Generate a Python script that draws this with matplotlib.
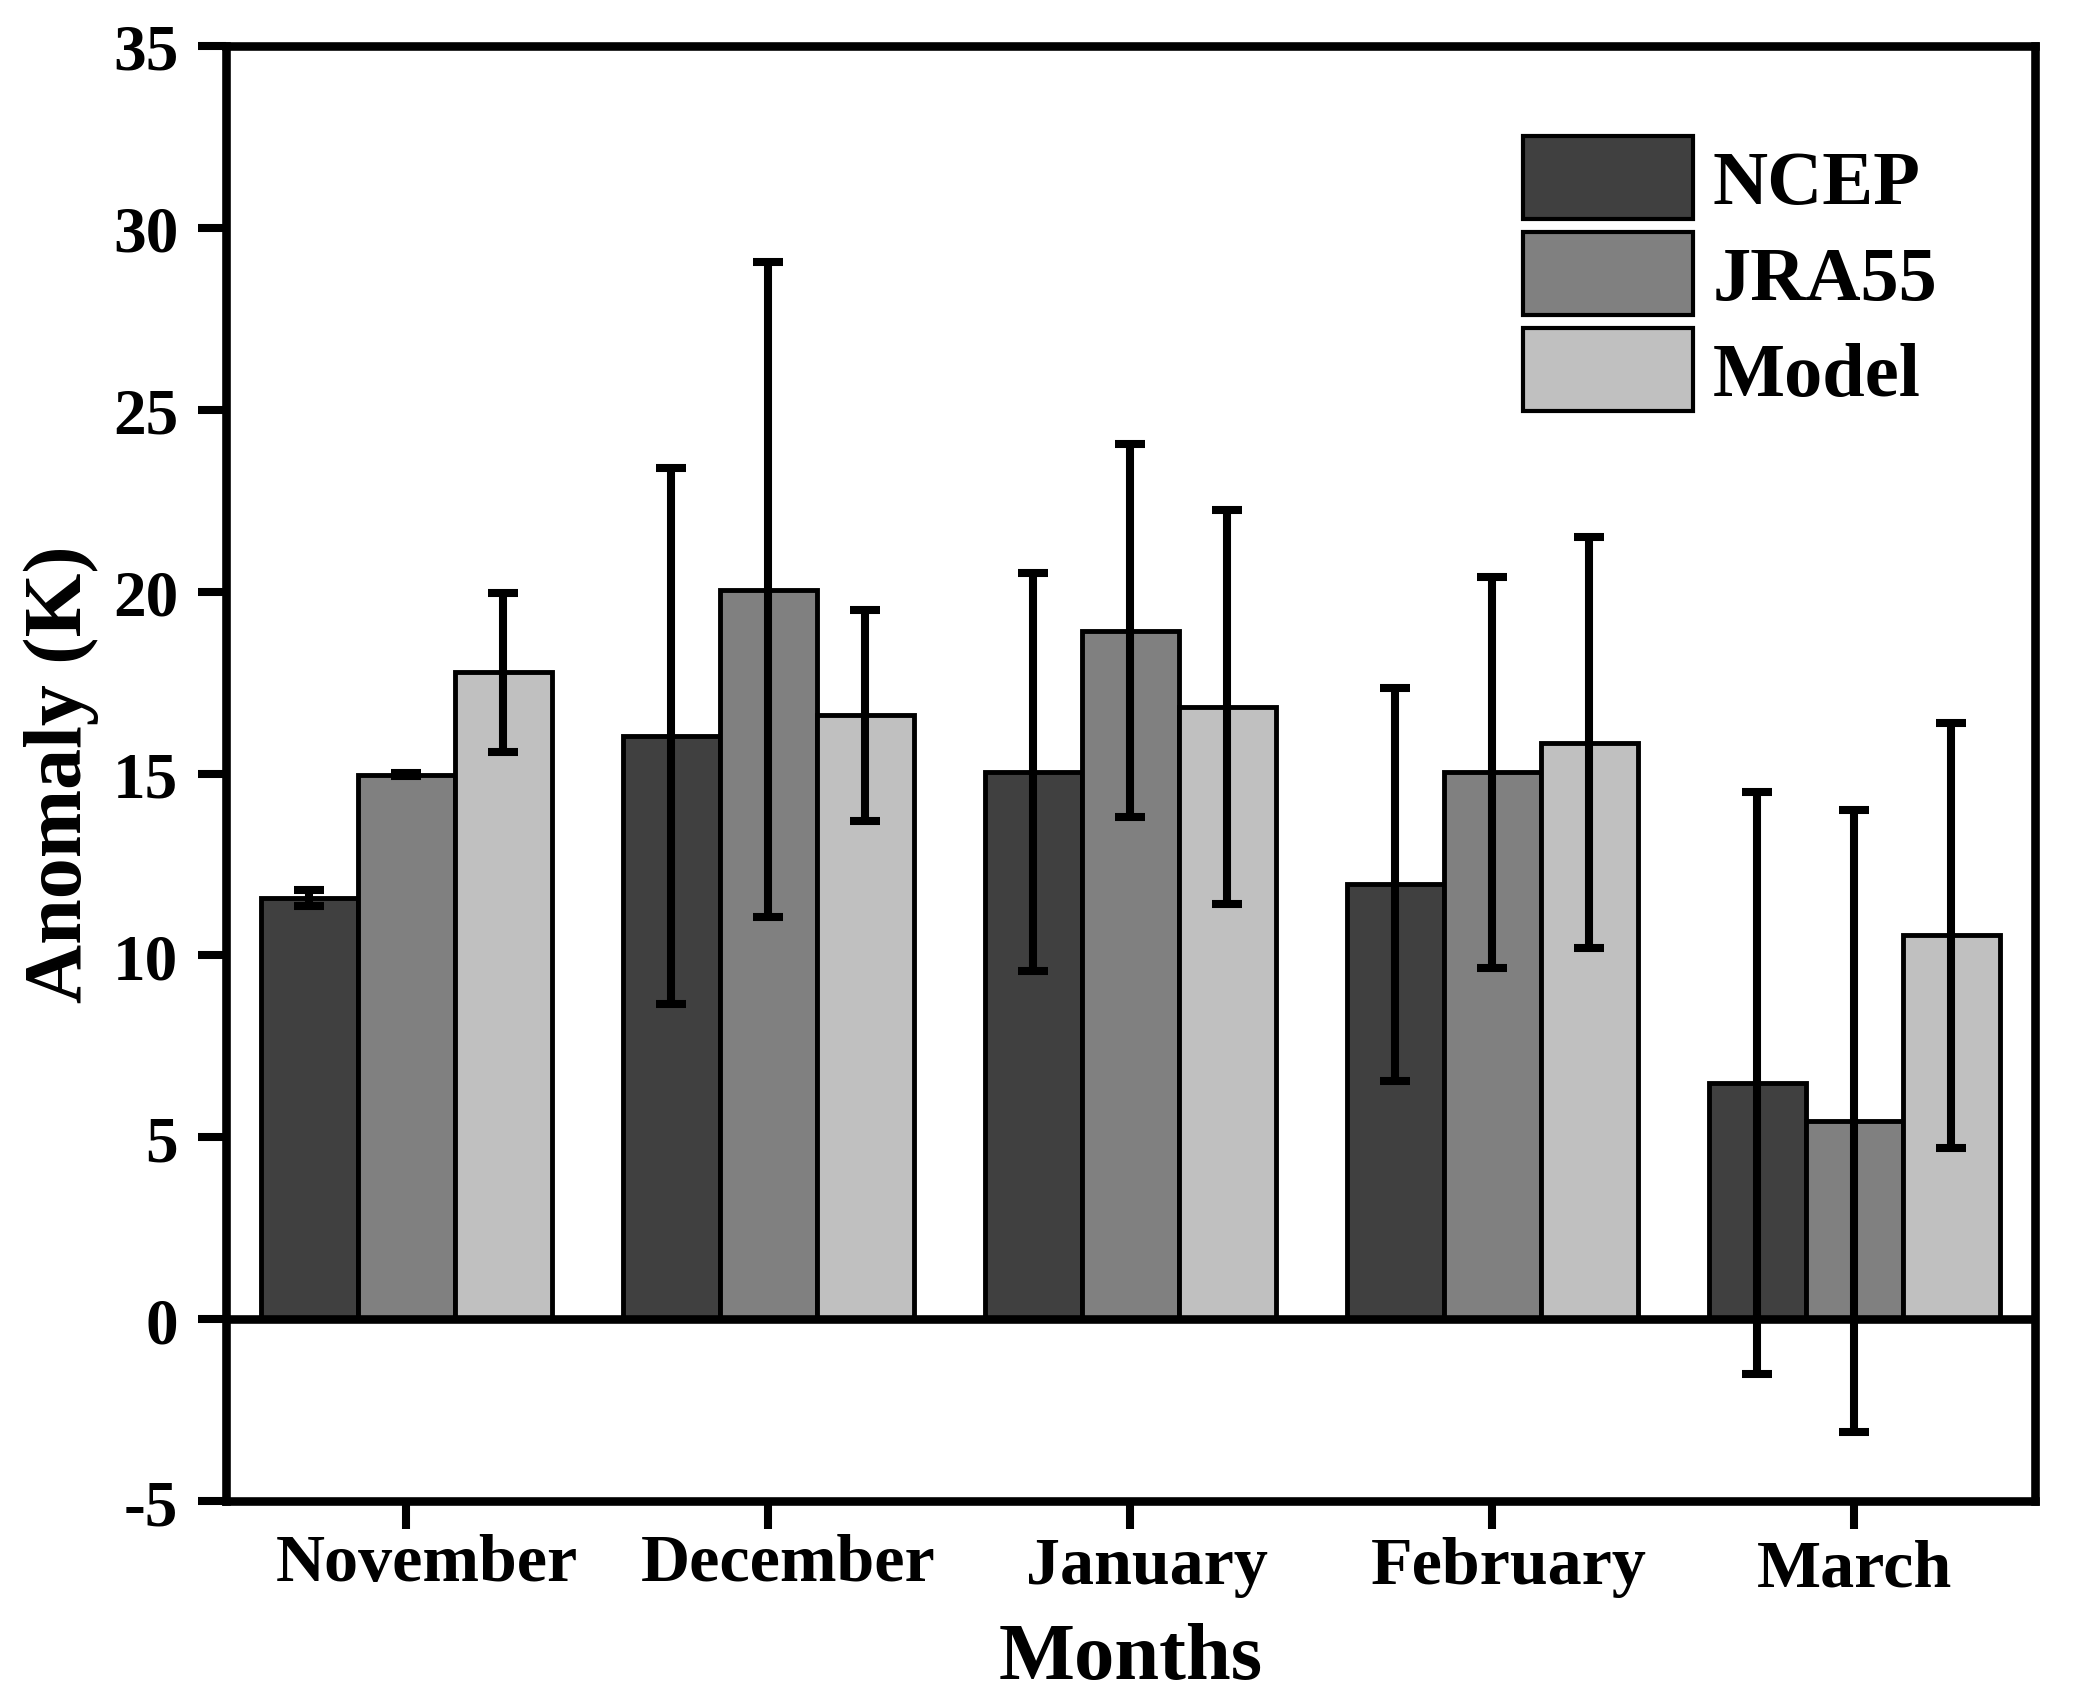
import matplotlib
matplotlib.use('Agg')
import matplotlib.pyplot as plt
import numpy as np
from matplotlib.transforms import ScaledTranslation

months = ['November', 'December', 'January', 'February', 'March']
series_names = ['NCEP', 'JRA55', 'Model']
ncep = [11.58, 16.03, 15.03, 11.95, 6.50]
ncep_err = [0.22, 7.38, 5.47, 5.40, 8.00]
jra55 = [14.97, 20.05, 18.93, 15.03, 5.45]
jra55_err = [0.05, 9.00, 5.13, 5.37, 8.55]
model = [17.78, 16.60, 16.83, 15.85, 10.55]
model_err = [2.18, 2.90, 5.42, 5.65, 5.85]
colors = ['#404040', '#808080', '#c0c0c0']
yticks = [-5, 0, 5, 10, 15, 20, 25, 30, 35]

plt.rcParams['font.family'] = ['Liberation Serif', 'DejaVu Serif']
plt.rcParams['font.weight'] = 'bold'

W, H = 2073, 1699
fig = plt.figure(figsize=(W / 100, H / 100), dpi=100)
ax = fig.add_axes([225.5 / W, 1 - 1502 / H, (2035 - 225.5) / W, (1502 - 47) / H])

x = np.arange(len(months))
bw = 0.268
data = [ncep, jra55, model]
errs = [ncep_err, jra55_err, model_err]
for i, (vals, err, c, name) in enumerate(zip(data, errs, colors, series_names)):
    pos = x + (i - 1) * bw
    ax.bar(pos, vals, width=bw, color=c, edgecolor='black', linewidth=3.5,
           label=name, zorder=2)
    ax.errorbar(pos, vals, yerr=err, fmt='none', ecolor='black',
                elinewidth=5.8, capsize=11, capthick=5.8, zorder=4)

ax.axhline(0, color='black', linewidth=6.2, zorder=3)

ax.set_xlim(-0.5, 4.5)
ax.set_ylim(-5, 35)
ax.set_yticks(yticks)
ax.set_yticklabels([str(v) for v in yticks], fontsize=47, fontweight='bold')
ax.set_xticks(x)
ax.set_xticklabels(months, fontsize=49, fontweight='bold')

for s in ax.spines.values():
    s.set_linewidth(6.2)
ax.tick_params(axis='both', which='both', direction='out', length=20, width=5.8,
               top=False, right=False)
ax.tick_params(axis='y', pad=14)
ax.tick_params(axis='x', pad=3)

offsets = [(20, 0), (20, 0), (17, -3), (17, -3), (0, -6)]
for lab, (dx, dy) in zip(ax.get_xticklabels(), offsets):
    lab.set_transform(lab.get_transform() + ScaledTranslation(dx / 100, dy / 100, fig.dpi_scale_trans))

ax.set_xlabel('Months', fontsize=58, fontweight='bold', labelpad=16)
ax.set_ylabel('Anomaly (K)', fontsize=59, fontweight='bold', labelpad=10)

leg = ax.legend(loc='upper left', bbox_to_anchor=(1523 / W, 1 - 137 / H),
                bbox_transform=fig.transFigure, frameon=False, fontsize=55,
                handlelength=2.22, handleheight=1.29, handletextpad=0.26,
                labelspacing=0.17, borderpad=0, borderaxespad=0)
for t in leg.get_texts():
    t.set_fontweight('bold')
for p in leg.get_patches():
    p.set_linewidth(3.0)

fig.savefig('out.png', dpi=100)
